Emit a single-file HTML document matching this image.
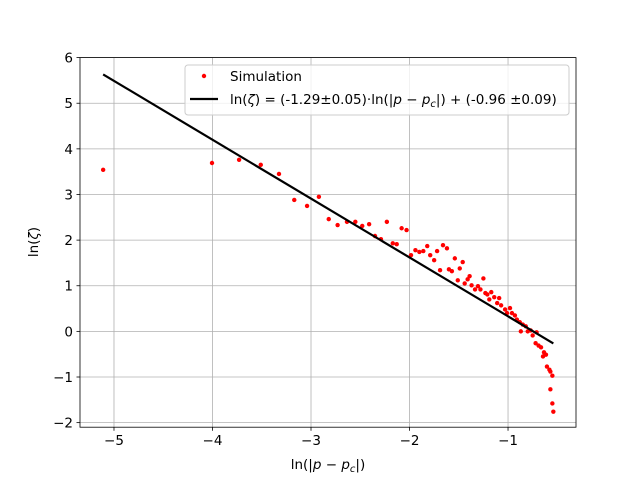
<!DOCTYPE html>
<html><head><meta charset="utf-8"><style>
html,body{margin:0;padding:0;background:#fff;}
svg{display:block;font-family:"DejaVu Sans","Liberation Sans",sans-serif;}
</style></head><body>
<svg id="chart" width="640" height="480" xmlns="http://www.w3.org/2000/svg">
<rect width="640" height="480" fill="#fff"/>
<g id="grid"></g>
<g id="marks"></g>
<rect x="80" y="57.6" width="496" height="369.6" fill="none" stroke="#000" stroke-width="0.8"/>
<g id="ticks"></g>
<text x="328" y="469" text-anchor="middle" font-size="13.5">ln(|<tspan font-style="italic">p</tspan> − <tspan font-style="italic">p</tspan><tspan font-size="10" dy="3" font-style="italic">c</tspan><tspan dy="-3">|)</tspan></text>
<text transform="translate(38,242) rotate(-90)" text-anchor="middle" font-size="13.5">ln(<tspan font-style="italic">ζ</tspan>)</text>
<g>
<rect x="185" y="65" width="384" height="50" rx="3" fill="#fff" fill-opacity="0.8" stroke="#ccc" stroke-width="1"/>
<circle cx="204" cy="76" r="2.2" fill="red"/>
<text x="230" y="81" font-size="13.5">Simulation</text>
<line x1="190" y1="99" x2="218" y2="99" stroke="#000" stroke-width="2.2"/>
<text x="230" y="104" font-size="13.5">ln(<tspan font-style="italic">ζ</tspan>) = (-1.29±0.05)·ln(|<tspan font-style="italic">p</tspan> − <tspan font-style="italic">p</tspan><tspan font-size="10" dy="3" font-style="italic">c</tspan><tspan dy="-3">|) + (-0.96 ±0.09)</tspan></text>
</g>
</svg>
<script>
const xs = [-5.11,-4.005,-3.73,-3.51,-3.325,-3.17,-3.04,-2.92,-2.82,-2.73,-2.635,-2.55,-2.48,-2.41,-2.35,-2.29,-2.23,-2.17,-2.13,-2.08,-2.03,-1.985,-1.94,-1.90,-1.86,-1.82,-1.79,-1.75,-1.72,-1.69,-1.66,-1.62,-1.60,-1.57,-1.54,-1.49,-1.46,-1.51,-1.44,-1.41,-1.39,-1.37,-1.335,-1.305,-1.28,-1.25,-1.23,-1.21,-1.19,-1.17,-1.14,-1.11,-1.09,-1.07,-1.03,-0.98,-0.96,-1.01,-0.93,-0.91,-0.88,-0.85,-0.82,-0.87,-0.80,-0.77,-0.75,-0.71,-0.72,-0.69,-0.665,-0.635,-0.615,-0.645,-0.605,-0.58,-0.57,-0.55,-0.57,-0.55,-0.54];
const ys = [3.54,3.69,3.76,3.65,3.45,2.88,2.75,2.95,2.46,2.33,2.40,2.40,2.31,2.35,2.09,2.02,2.40,1.93,1.91,2.26,2.22,1.67,1.78,1.74,1.76,1.87,1.67,1.56,1.76,1.34,1.89,1.82,1.36,1.32,1.60,1.38,1.52,1.12,1.05,1.14,1.21,1.01,0.92,0.99,0.92,1.16,0.84,0.81,0.70,0.86,0.75,0.62,0.73,0.57,0.48,0.51,0.40,0.40,0.35,0.26,0.20,0.15,0.11,0.0,0.0,0.02,-0.09,-0.02,-0.26,-0.31,-0.35,-0.46,-0.51,-0.55,-0.77,-0.84,-0.88,-0.97,-1.27,-1.58,-1.76];
const fitSlope = [-1.29];
const fitIntercept = [-0.96];
const xTicks = [-5,-4,-3,-2,-1];
const yTicks = [-2,-1,0,1,2,3,4,5,6];
const xTickLabels = ["−5","−4","−3","−2","−1"];
const yTickLabels = ["−2","−1","0","1","2","3","4","5","6"];

const X0=-5.345, X1=-0.31, Y0=-2.1, Y1=6.0;
const L=80,R=576,T=57.6,B=427.2;
const sx=v=>L+(v-X0)/(X1-X0)*(R-L);
const sy=v=>B-(v-Y0)/(Y1-Y0)*(B-T);
const NS="http://www.w3.org/2000/svg";
function mk(tag,attrs,parent){const e=document.createElementNS(NS,tag);for(const k in attrs)e.setAttribute(k,attrs[k]);parent.appendChild(e);return e;}
const grid=document.getElementById('grid'),marks=document.getElementById('marks'),ticks=document.getElementById('ticks');
xTicks.forEach((t,i)=>{
  const g=mk('line',{x1:sx(t),x2:sx(t),y1:T,y2:B,stroke:'#b0b0b0','stroke-width':0.8},grid);
  
  
  const tk=mk('line',{x1:sx(t),x2:sx(t),y1:B,y2:B+3.5,stroke:'#000','stroke-width':0.8},ticks);
  
  
  const tx=mk('text',{x:sx(t),y:B+18,'text-anchor':'middle','font-size':13.5},ticks);
  tx.textContent=xTickLabels[i];
  
  
});
yTicks.forEach((t,i)=>{
  const g=mk('line',{x1:L,x2:R,y1:sy(t),y2:sy(t),stroke:'#b0b0b0','stroke-width':0.8},grid);
  
  
  const tk=mk('line',{x1:L-3.5,x2:L,y1:sy(t),y2:sy(t),stroke:'#000','stroke-width':0.8},ticks);
  
  
  const tx=mk('text',{x:L-7,y:sy(t)+5,'text-anchor':'end','font-size':13.5},ticks);
  tx.textContent=yTickLabels[i];
  
  
});
xs.forEach((x,i)=>{
  const c=mk('circle',{cx:sx(x),cy:sy(ys[i]),r:2.2,fill:'red'},marks);
  
  
});
const xmin=Math.min(...xs),xmax=Math.max(...xs);
const ln=mk('line',{x1:sx(xmin),y1:sy(fitSlope[0]*xmin+fitIntercept[0]),x2:sx(xmax),y2:sy(fitSlope[0]*xmax+fitIntercept[0]),stroke:'#000','stroke-width':2.2},marks);


</script>
</body></html>
